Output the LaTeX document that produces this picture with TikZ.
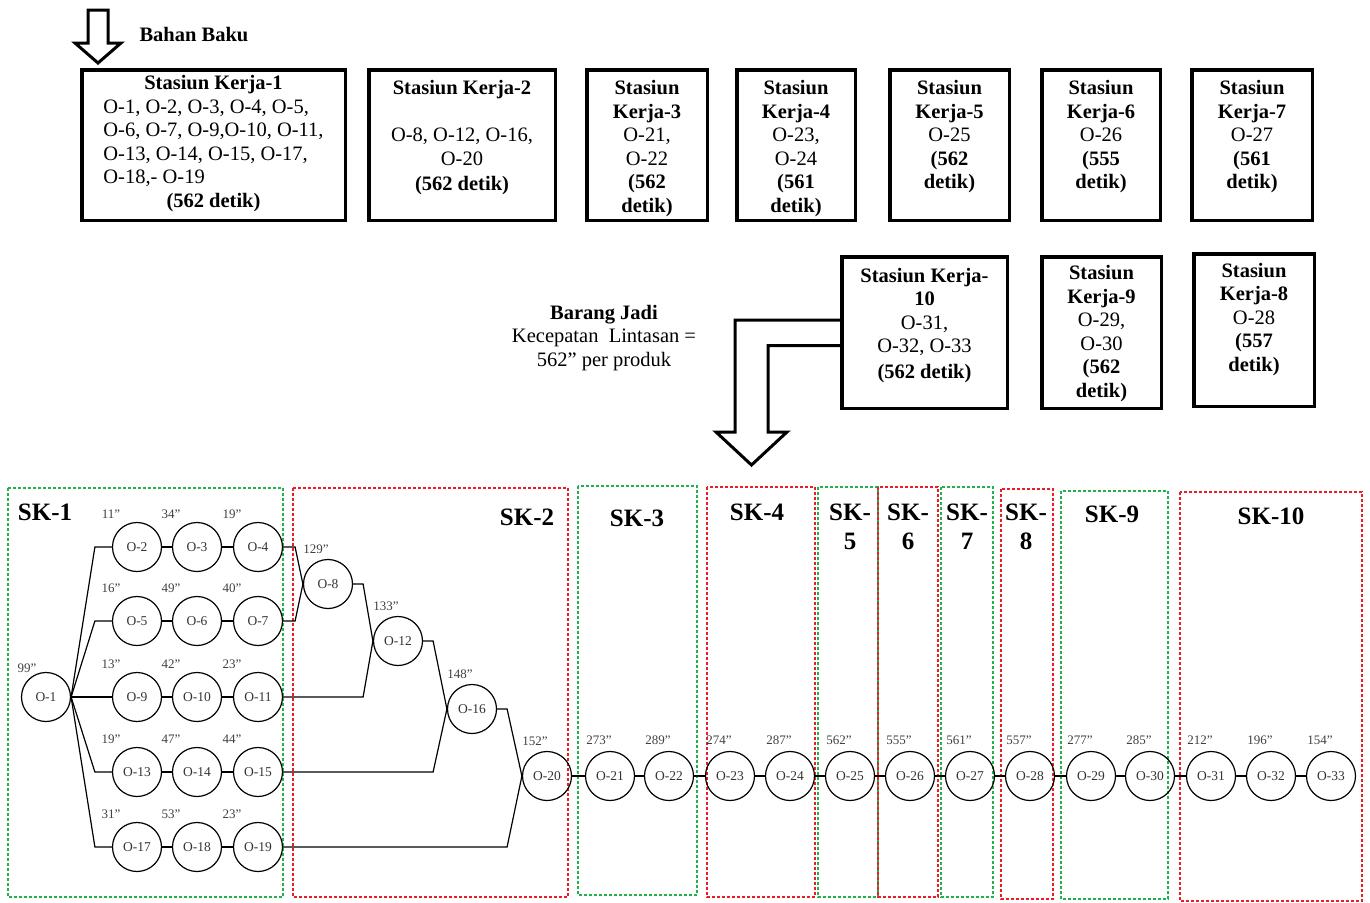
\documentclass[tikz,border=0pt]{standalone}
\usepackage{fontspec}
\setmainfont{Liberation Serif}
\usetikzlibrary{positioning,calc}
\definecolor{skgreen}{RGB}{34,177,76}
\definecolor{skred}{RGB}{237,28,36}
\newcommand\boxfont{\fontsize{20.5}{23.5}\selectfont}
\newcommand\skfont{\fontsize{25}{29}\selectfont\bfseries}
\newcommand\opfont{\fontsize{13.5}{15}\selectfont}
\newcommand\tmfont{\fontsize{13}{14}\selectfont}

\begin{document}
\begin{tikzpicture}[
    x=1pt, y=-1pt,
    every node/.style={font=\boxfont},
    stbox/.style={draw, line width=3.5pt, minimum height=150.5pt, inner sep=0pt},
    sttext/.style={align=center, inner sep=0pt},
    hollow/.style={draw, line width=3pt, fill=white, line join=miter},
    skframe/.style={dash pattern=on 3pt off 2pt, line width=1.3pt},
    sk/.style={font=\skfont, align=center, inner sep=0pt},
    op/.style={draw, circle, line width=1.2pt, minimum size=49pt, inner sep=0pt, font=\opfont, text=black!80},
    tm/.style={font=\tmfont, text=black!75, inner sep=0pt},
    link/.style={line width=1.2pt},
  ]
  \useasboundingbox (0,0) rectangle (1370,902);

  % stasiun kerja, top row
  \node[stbox, minimum width=263.5pt] (sk1) at (213.5,145) {};
  \node[stbox, minimum width=186.5pt] (sk2) at (462,145) {};
  \node[stbox, minimum width=120.5pt] (sk3) at (647,145) {};
  \node[stbox, minimum width=118.5pt] (sk4) at (796,145) {};
  \node[stbox, minimum width=119.5pt] (sk5) at (949.5,145) {};
  \node[stbox, minimum width=118.5pt] (sk6) at (1101,145) {};
  \node[stbox, minimum width=120.5pt] (sk7) at (1252,145) {};
  % second row
  \node[stbox, minimum width=165.5pt, minimum height=151.5pt] (sk10) at (924.5,332.5) {};
  \node[stbox, minimum width=119.5pt, minimum height=151.5pt] (sk9) at (1101.5,332.5) {};
  \node[stbox, minimum width=120.5pt, minimum height=152.5pt] (sk8) at (1254,330) {};

  \node[sttext, below=5pt of sk1.north] (sk1t) {\begin{tabular}{@{}l@{}}
      \multicolumn{1}{@{}c@{}}{\textbf{Stasiun Kerja-1}}\\
      O-1, O-2, O-3, O-4, O-5,\\
      O-6, O-7, O-9,O-10, O-11,\\
      O-13, O-14, O-15, O-17,\\
      O-18,- O-19\\
      \multicolumn{1}{@{}c@{}}{\textbf{(562 detik)}}
    \end{tabular}};
  \node[sttext, below=12.5pt of sk2.north] (sk2t) {\textbf{Stasiun Kerja-2}\\[23.5pt]O-8, O-12, O-16,\\O-20\\[2pt]\textbf{(562 detik)}};
  \node[sttext, below=12.5pt of sk3.north] (sk3t) {\textbf{Stasiun}\\\textbf{Kerja-3}\\O-21,\\O-22\\\textbf{(562}\\\textbf{detik)}};
  \node[sttext, below=12.5pt of sk4.north] (sk4t) {\textbf{Stasiun}\\\textbf{Kerja-4}\\O-23,\\O-24\\\textbf{(561}\\\textbf{detik)}};
  \node[sttext, below=12.5pt of sk5.north] (sk5t) {\textbf{Stasiun}\\\textbf{Kerja-5}\\O-25\\\textbf{(562}\\\textbf{detik)}};
  \node[sttext, below=12.5pt of sk6.north] (sk6t) {\textbf{Stasiun}\\\textbf{Kerja-6}\\O-26\\\textbf{(555}\\\textbf{detik)}};
  \node[sttext, below=12.5pt of sk7.north] (sk7t) {\textbf{Stasiun}\\\textbf{Kerja-7}\\O-27\\\textbf{(561}\\\textbf{detik)}};
  \node[sttext, below=13pt of sk10.north] (sk10t) {\textbf{Stasiun Kerja-}\\\textbf{10}\\O-31,\\O-32, O-33\\[2pt]\textbf{(562 detik)}};
  \node[sttext, below=10.5pt of sk9.north] (sk9t) {\textbf{Stasiun}\\\textbf{Kerja-9}\\O-29,\\O-30\\\textbf{(562}\\\textbf{detik)}};
  \node[sttext, below=11pt of sk8.north] (sk8t) {\textbf{Stasiun}\\\textbf{Kerja-8}\\O-28\\\textbf{(557}\\\textbf{detik)}};

  % input and output
  \node[anchor=west, font=\boxfont\bfseries] (bahan) at (136,35) {Bahan Baku};
  \draw[hollow] (88,10) -- (108,10) -- (108,43) -- (121,43) -- (98,63) -- (75,43) -- (88,43) -- cycle;
  \node[align=center] (jadi) at (604,338) {\textbf{Barang Jadi}\\Kecepatan\ \ Lintasan =\\562” per produk};
  \draw[hollow, fill=none] ([yshift=12.5pt]sk10.west) -- (735,320) -- (735,432) -- (716,432)
    -- (751.5,465) -- (787,432) -- (768,432) -- (768,345.5) -- ([yshift=-13pt]sk10.west);

  % pembagian stasiun kerja
  \draw[skframe, skgreen] (8,488) rectangle (283,897);
  \draw[skframe, skred] (293,488) rectangle (568,897);
  \draw[skframe, skgreen] (578,486) rectangle (697,895);
  \draw[skframe, skred] (707,487) rectangle (815,897);
  \draw[skframe, skgreen] (818,487) rectangle (878,897);
  \draw[skframe, skred] (878,487) rectangle (938,897);
  \draw[skframe, skgreen] (941,487) rectangle (993,897);
  \draw[skframe, skred] (1001,489) rectangle (1053,899);
  \draw[skframe, skgreen] (1061,491) rectangle (1168,899);
  \draw[skframe, skred] (1180,492) rectangle (1362,901);

  \node[sk] (lsk1) at (45,512) {SK-1};
  \node[sk] (lsk2) at (527,517) {SK-2};
  \node[sk] (lsk3) at (637,518) {SK-3};
  \node[sk] (lsk4) at (757,512) {SK-4};
  \node[sk] (lsk5) at (850,527) {SK-\\5};
  \node[sk] (lsk6) at (908,527) {SK-\\6};
  \node[sk] (lsk7) at (967,527) {SK-\\7};
  \node[sk] (lsk8) at (1026,527) {SK-\\8};
  \node[sk] (lsk9) at (1112,514) {SK-9};
  \node[sk] (lsk10) at (1271,516) {SK-10};

  % operasi
  \node[op] (o1) at (46,697) {O-1};
  \node[tm] (t1) at ($(o1)+(-19,-29)$) {99”};
  \foreach \n/\x/\y/\t in {2/137/547/11, 3/197/547/34, 4/258/547/19,
      5/137/621/16, 6/197/621/49, 7/258/621/40,
      9/137/697/13, 10/197/697/42, 11/258/697/23,
      13/137/772/19, 14/197/772/47, 15/258/772/44,
      17/137/847/31, 18/197/847/53, 19/258/847/23} {
    \node[op] (o\n) at (\x,\y) {O-\n};
    \node[tm] (t\n) at ($(o\n)+(-26,-33)$) {\t”};
  }
  \foreach \n/\x/\y/\t in {8/328/584/129, 12/398/641/133, 16/472/709/148, 20/547/776/152} {
    \node[op] (o\n) at (\x,\y) {O-\n};
    \node[tm] (t\n) at ($(o\n)+(-12,-35)$) {\t”};
  }
  \foreach \n/\x/\t in {21/610/273, 22/669/289, 23/730/274, 24/790/287, 25/850/562,
      26/910/555, 27/970/561, 28/1030/557, 29/1091/277, 30/1150/285,
      31/1211/212, 32/1271/196, 33/1331/154} {
    \node[op] (o\n) at (\x,776) {O-\n};
    \node[tm] (t\n) at ($(o\n)+(-11,-36)$) {\t”};
  }

  % hubungan antar operasi
  \foreach \n in {2,5,13,17}
    \draw[link] (o1.east) -- ([xshift=-17pt]o\n.west) -- (o\n.west);
  \draw[link] (o1) -- (o9);
  \foreach \a/\b in {2/3,3/4,5/6,6/7,9/10,10/11,13/14,14/15,17/18,18/19}
    \draw[link] (o\a) -- (o\b);
  \draw[link] (o4.east) -- ([xshift=12pt]o4.east) -- (o8.west);
  \draw[link] (o7.east) -- ([xshift=12pt]o7.east) -- (o8.west);
  \coordinate (k8) at ([xshift=10pt]o8.east);
  \coordinate (k12) at ([xshift=10pt]o12.east);
  \coordinate (k16) at ([xshift=10pt]o16.east);
  \draw[link] (o8.east) -- (k8) -- (o12.west);
  \draw[link] (o11.east) -- (o11.east -| k8) -- (o12.west);
  \draw[link] (o12.east) -- (k12) -- (o16.west);
  \draw[link] (o15.east) -- (o15.east -| k12) -- (o16.west);
  \draw[link] (o16.east) -- (k16) -- (o20.west);
  \draw[link] (o19.east) -- (o19.east -| k16) -- (o20.west);
  \foreach \a/\b in {20/21,21/22,22/23,23/24,24/25,25/26,26/27,27/28,28/29,29/30,30/31,31/32,32/33}
    \draw[link] (o\a) -- (o\b);
\end{tikzpicture}
\end{document}
